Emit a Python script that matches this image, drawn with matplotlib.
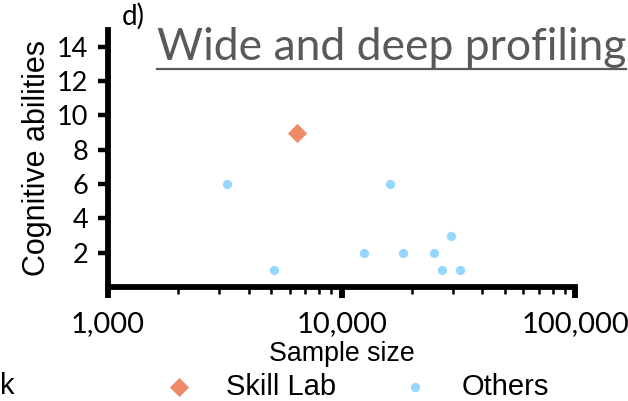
import matplotlib
matplotlib.use("Agg")
import matplotlib.pyplot as plt
from matplotlib.ticker import FixedLocator, FuncFormatter, LogLocator, NullFormatter
from matplotlib.lines import Line2D

# Data
skill_x = [6470]
skill_y = [9]
others_x = [3240, 5110, 12420, 16070, 18270, 24850, 29370, 26860, 32080]
others_y = [6, 1, 2, 6, 2, 2, 3, 1, 1]
y_ticks = [2, 4, 6, 8, 10, 12, 14]
x_ticks = [1000, 10000, 100000]
title_text = "Wide and deep profiling"
panel_label = "d)"

skill_color = "#EF8A68"
others_color = "#96D7FF"

fig = plt.figure(figsize=(6.28, 4.01), dpi=100)
ax = fig.add_axes([0.172, 0.284, 0.744, 0.642])

ax.scatter(skill_x, skill_y, marker="D", s=95, color=skill_color, label="Skill Lab", zorder=3, linewidths=0)
ax.scatter(others_x, others_y, marker="o", s=44, color=others_color, label="Others", zorder=3, linewidths=0)

ax.set_xscale("log")
ax.set_xlim(1000, 100000)
ax.set_ylim(0, 15)

ax.spines["top"].set_visible(False)
ax.spines["right"].set_visible(False)
for s in ["left", "bottom"]:
    ax.spines[s].set_linewidth(4.2)

tick_font = "Lato"
ax.xaxis.set_major_locator(FixedLocator(x_ticks))
ax.xaxis.set_major_formatter(FuncFormatter(lambda v, p: f"{int(round(v)):,}"))
ax.xaxis.set_minor_locator(LogLocator(base=10, subs=range(2, 10)))
ax.xaxis.set_minor_formatter(NullFormatter())
ax.set_yticks(y_ticks)

ax.tick_params(axis="x", which="major", length=8, width=4.2, labelsize=21, pad=9)
ax.tick_params(axis="x", which="minor", length=5, width=1.8)
ax.tick_params(axis="y", which="major", length=7, width=3.2, labelsize=19.5, pad=7)
for lab in ax.get_xticklabels() + ax.get_yticklabels():
    lab.set_fontfamily(tick_font)

ax.set_xlabel("Sample size", fontsize=19.3, family="Liberation Sans", labelpad=3)
ax.set_ylabel("Cognitive abilities", fontsize=22, family="Liberation Sans", labelpad=4)

# Panel label and title
fig.text(122/628, 1 - 16/401, panel_label, fontsize=20, family=tick_font, ha="left", va="center")
t = fig.text(157/628, 1 - 47/401, title_text, fontsize=32, family=tick_font, color="#595959",
             ha="left", va="center")
fig.canvas.draw()
bb = t.get_window_extent().transformed(fig.transFigure.inverted())
uy = 1 - 68.5/401
fig.add_artist(Line2D([bb.x0, bb.x1], [uy, uy], transform=fig.transFigure, color="#595959", lw=1.6))

# Legend
fig.text(0.5/628, 1 - 386/401, "k", fontsize=21, family="Liberation Sans", ha="left", va="center")
h, l = ax.get_legend_handles_labels()
leg = fig.legend(h, l, loc="center", bbox_to_anchor=(357/628, 1 - 387/401), ncol=2, frameon=False,
                 prop={"family": "Liberation Sans", "size": 21}, handletextpad=1.1,
                 columnspacing=2.2, borderaxespad=0, handlelength=1.0)

fig.savefig("out.png", dpi=100)
